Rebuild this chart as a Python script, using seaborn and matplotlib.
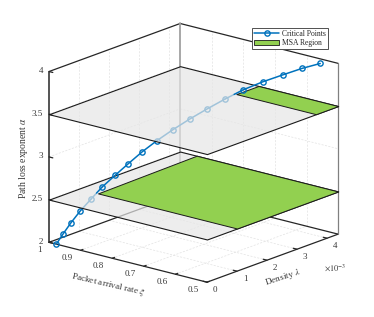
import matplotlib
matplotlib.use('Agg')
import matplotlib.pyplot as plt
import seaborn as sns
import numpy as np
from mpl_toolkits.mplot3d import proj3d
from mpl_toolkits.mplot3d.art3d import Poly3DCollection

sns.set_theme(style="white")
plt.rcParams['font.family'] = ['Liberation Serif', 'DejaVu Serif']
plt.rcParams['mathtext.fontset'] = 'stix'

# critical points
alpha_pts = [2.0, 2.11, 2.22, 2.33, 2.44, 2.56, 2.67, 2.78, 2.89, 3.0, 3.11, 3.22, 3.33, 3.44, 3.56, 3.67, 3.78, 3.89, 4.0]
xi_pts = [0.977, 0.968, 0.963, 0.957, 0.950, 0.939, 0.926, 0.913, 0.900, 0.881, 0.859, 0.834, 0.805, 0.774, 0.735, 0.691, 0.641, 0.590, 0.533]
lam_pts = [0.0, 0.128, 0.343, 0.582, 0.871, 1.13, 1.42, 1.726, 2.056, 2.34, 2.64, 2.94, 3.21, 3.48, 3.69, 3.88, 4.02, 4.11, 4.12]

xi_ticks = [1, 0.9, 0.8, 0.7, 0.6, 0.5]
lam_ticks = [0, 1, 2, 3, 4]
alpha_ticks = [2, 2.5, 3, 3.5, 4]
XI_LIM = (1, 0.5)
LAM_LIM = (0, 4.37)
ALPHA_LIM = (2, 4)

# plane levels and green regions (xi, lambda)
plane_levels = [2.5, 3.5]
low_region = [(0.94, 1.0), (0.948, 4.37), (0.5, 4.37), (0.5, 1.0)]
high_region = [(0.752, 3.63), (0.752, 4.37), (0.5, 4.37), (0.5, 3.63)]

BLUE = '#0072BD'
GREEN = '#92D050'
TXT = '#383838'
DARK = '#262626'

fig = plt.figure(figsize=(3.74, 3.17), dpi=100)
ax = fig.add_axes([-0.045, -0.047, 1.1, 1.1], projection='3d', proj_type='ortho', computed_zorder=False)
ax.view_init(elev=17.7, azim=-50.3)
ax.set_box_aspect((205, 205, 179), zoom=0.95)
ax.set_xlim(*XI_LIM)
ax.set_ylim(*LAM_LIM)
ax.set_zlim(*ALPHA_LIM)
ax.set_axis_off()
ax.apply_aspect()


def label3(x, y, z, dx, dy, s, **kw):
    # text placed in pixels, offset from a data point of the 3D box
    px, py, _ = proj3d.proj_transform(x, y, z, ax.get_proj())
    px, py = ax.transData.transform((px, py))
    fig.text(px + dx, py + dy, s, transform=None, color=TXT, **kw)


# grid on floor and the two back walls
grid = dict(color='#e2e2e2', lw=0.5, ls=(0, (3, 2)), zorder=0.5)
for x in xi_ticks[1:-1]:
    ax.plot([x, x], LAM_LIM, [2, 2], **grid)
    ax.plot([x, x], [LAM_LIM[1]] * 2, ALPHA_LIM, **grid)
for y in lam_ticks[1:]:
    ax.plot(XI_LIM, [y, y], [2, 2], **grid)
    ax.plot([1, 1], [y, y], ALPHA_LIM, **grid)
for z in alpha_ticks[1:-1]:
    ax.plot(XI_LIM, [LAM_LIM[1]] * 2, [z, z], **grid)
    ax.plot([1, 1], LAM_LIM, [z, z], **grid)

# box
box = dict(color=DARK, lw=0.9, zorder=0.7)
ax.plot([1, 0.5], [0, 0], [2, 2], **box)
ax.plot([0.5, 0.5], LAM_LIM, [2, 2], **box)
ax.plot([1, 1], LAM_LIM, [2, 2], **box)
ax.plot(XI_LIM, [LAM_LIM[1]] * 2, [2, 2], **box)
ax.plot([1, 1], [0, 0], ALPHA_LIM, color=DARK, lw=1.1, zorder=0.7)
ax.plot([1, 1], LAM_LIM, [4, 4], **box)
ax.plot(XI_LIM, [LAM_LIM[1]] * 2, [4, 4], **box)
ax.plot([0.5, 0.5], [LAM_LIM[1]] * 2, ALPHA_LIM, color='#808080', lw=0.9, zorder=0.7)
ax.plot([1, 1], [LAM_LIM[1]] * 2, ALPHA_LIM, color='#a0a0a0', lw=1.3, zorder=0.7)

# ticks and labels
for x in xi_ticks:
    ax.plot([x, x], [0, 0.08], [2, 2], **box)
    label3(x, 0, 2, -10 if x == 1 else -13.5, -8, f'{x:g}', fontsize=6.5, ha='center', va='center')
for y in lam_ticks:
    ax.plot([0.5, 0.512], [y, y], [2, 2], **box)
    label3(0.5, y, 2, 8, -7.5, f'{y}', fontsize=6.5, ha='center', va='center')
for z in alpha_ticks:
    ax.plot([1, 0.988], [0, 0], [z, z], **box)
    label3(1, 0, z, -6, 0.5, f'{z:g}', fontsize=6.5, ha='right', va='center')

label3(0.75, 0, 2, -20, -22, r'Packet arrival rate $\xi$', fontsize=6.7, rotation=-13,
       ha='center', va='center', rotation_mode='anchor')
label3(0.5, 2.2, 2, 10, -20, r'Density $\lambda$', fontsize=6.7, rotation=18,
       ha='center', va='center', rotation_mode='anchor')
label3(0.5, LAM_LIM[1], 2, -3, -33, r'$\times 10^{-3}$', fontsize=6, ha='center', va='center')
label3(1, 0, 3, -26, -1, r'Path loss exponent $\alpha$', fontsize=6.9, rotation=90,
       ha='center', va='center')

# planes with the regions on top
for i, z in enumerate(plane_levels):
    gray = [(1, 0, z), (0.5, 0, z), (0.5, LAM_LIM[1], z), (1, LAM_LIM[1], z)]
    ax.add_collection3d(Poly3DCollection([gray], facecolor=(0.9, 0.9, 0.9, 0.7), edgecolor='#1a1a1a',
                                         linewidth=0.8, zorder=2 + 2 * i))
    region = low_region if i == 0 else high_region
    poly = [(a, b, z) for a, b in region]
    ax.add_collection3d(Poly3DCollection([poly], facecolor=GREEN, edgecolor='#1a1a1a',
                                         linewidth=0.7, zorder=2.5 + 2 * i))

# curve split at each plane so the planes veil the parts underneath
alpha_arr = np.array(alpha_pts)
xi_arr = np.array(xi_pts)
lam_arr = np.array(lam_pts)
bands = [(1.9, 2.5, 1), (2.5, 3.5, 3), (3.5, 4.1, 5)]
marker = dict(color=BLUE, lw=1.1, marker='o', ms=3.8, mfc='none', mew=1.0)
for lo, hi, zo in bands:
    idx = np.where((alpha_arr > lo) & (alpha_arr < hi))[0]
    ax.plot(xi_arr[idx], lam_arr[idx], alpha_arr[idx], zorder=zo, **marker)
    # short joins up to the plane crossing
    for j in [idx[0] - 1, idx[-1] + 1]:
        if 0 <= j < len(alpha_arr):
            k = idx[0] if j < idx[0] else idx[-1]
            level = lo if j < idx[0] else hi
            t = (level - alpha_arr[k]) / (alpha_arr[j] - alpha_arr[k])
            ax.plot([xi_arr[k], xi_arr[k] + t * (xi_arr[j] - xi_arr[k])],
                    [lam_arr[k], lam_arr[k] + t * (lam_arr[j] - lam_arr[k])],
                    [alpha_arr[k], level], color=BLUE, lw=1.1, zorder=zo)

# legend
handles = [plt.Line2D([], [], color=BLUE, lw=1.1, marker='o', ms=3.8, mfc='none', mew=1.0),
           plt.Rectangle((0, 0), 1, 1, facecolor=GREEN, edgecolor='#1a1a1a', linewidth=0.6)]
leg = fig.legend(handles, ['Critical Points', 'MSA Region'], fontsize=5.5, loc='upper left',
                 bbox_to_anchor=(0.674, 0.912), fancybox=False, framealpha=1, edgecolor='#505050',
                 borderpad=0.25, labelspacing=0.2, handlelength=3.3, handletextpad=0.35, borderaxespad=0)
leg.get_frame().set_linewidth(0.7)
for t in leg.get_texts():
    t.set_color(DARK)

fig.savefig('out.png', dpi=100)
